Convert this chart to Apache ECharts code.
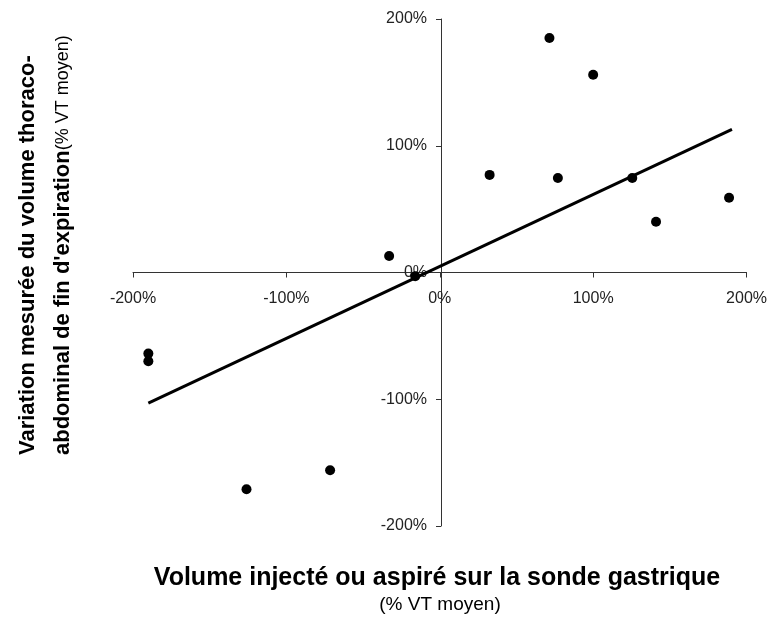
<!DOCTYPE html>
<html>
<head>
<meta charset="utf-8">
<script src="https://cdn.jsdelivr.net/npm/echarts@6/dist/echarts.min.js"></script>
<style>html,body{margin:0;padding:0;background:#fff}#c{width:770px;height:617px}</style>
</head>
<body>
<div id="c"></div>
<script>
// Data (% VT moyen)
const injectedVolume = [-190, -190, -126, -71.5, -33, -16, 32.5, 71.5, 77, 100, 125.5, 141, 188.6];
const measuredVariation = [-64, -70, -171, -156, 13, -3, 77, 185, 74.5, 156, 74.5, 40, 59];
const trendX = [-190, 190.5];
const trendY = [-103, 113];
const tickValues = [-200, -100, 0, 100, 200];

const xTitle = 'Volume injecté ou aspiré sur la sonde gastrique';
const xSubtitle = '(% VT moyen)';
const yTitle1 = 'Variation mesurée du volume thoraco-';
const yTitle2 = "abdominal de fin d'expiration";
const ySubtitle = '(% VT moyen)';

const points = injectedVolume.map((x, i) => [x, measuredVariation[i]]);
const trend = trendX.map((x, i) => [x, trendY[i]]);

const W = 770, H = 617;
const G = {left: 133, right: 21, top: 19, bottom: 91};
const gridW = W - G.left - G.right, gridH = H - G.top - G.bottom;

const chart = echarts.init(document.getElementById('c'), null, {renderer: 'canvas'});
const font = 'Liberation Sans, Arial, sans-serif';
function axis(extra, labelMargin) {
  return Object.assign({
    type: 'value',
    min: tickValues[0],
    max: tickValues[tickValues.length - 1],
    interval: 100,
    splitLine: {show: false},
    axisLine: {show: true, onZero: false, lineStyle: {color: '#333', width: 1}},
    axisTick: {show: true, inside: false, length: 5, lineStyle: {color: '#333'}},
    axisLabel: {
      formatter: '{value}%', color: '#222', fontFamily: font, fontSize: 16, margin: labelMargin,
      showMinLabel: true, showMaxLabel: true, hideOverlap: false
    }
  }, extra);
}
chart.setOption({
  animation: false,
  backgroundColor: '#fff',
  grid: Object.assign({containLabel: false}, G),
  // axes crossing at zero: shift each axis into the middle of the grid
  xAxis: axis({position: 'bottom', offset: -gridH / 2}, 18),
  yAxis: axis({position: 'left', offset: -gridW / 2}, 14),
  series: [
    {
      type: 'line', data: trend, showSymbol: false, symbol: 'none',
      lineStyle: {color: '#000', width: 3}, z: 3
    },
    {
      type: 'scatter', data: points, symbol: 'circle', symbolSize: 10,
      itemStyle: {color: '#000', opacity: 1}, z: 4
    }
  ],
  graphic: [
    {type: 'text', x: 437, y: 578, style: {text: xTitle, font: 'bold 25px ' + font, fill: '#000', align: 'center', verticalAlign: 'middle'}},
    {type: 'text', x: 440, y: 605, style: {text: xSubtitle, font: '19px ' + font, fill: '#000', align: 'center', verticalAlign: 'middle'}},
    {type: 'text', x: 28, y: 455, rotation: Math.PI / 2, style: {text: yTitle1, font: 'bold 22px ' + font, fill: '#000', align: 'left', verticalAlign: 'middle'}},
    {type: 'text', x: 63, y: 455, rotation: Math.PI / 2, style: {
      text: '{b|' + yTitle2 + '}{s|' + ySubtitle + '}', align: 'left', verticalAlign: 'middle',
      rich: {b: {font: 'bold 22px ' + font, fill: '#000', color: '#000'}, s: {font: '18px ' + font, fill: '#000', color: '#000'}}
    }}
  ]
});
</script>
</body>
</html>
